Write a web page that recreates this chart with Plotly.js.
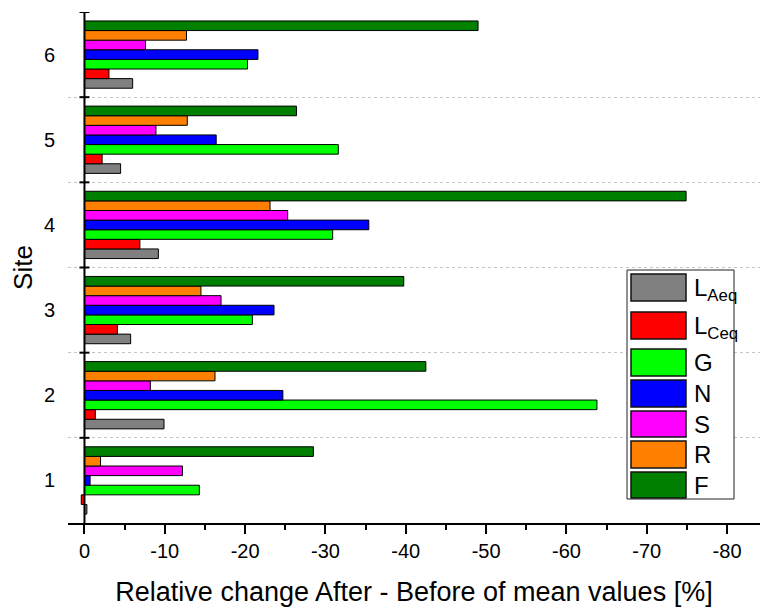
<!DOCTYPE html>
<html>
<head>
<meta charset="utf-8">
<script src="https://cdn.plot.ly/plotly-3.0.1.min.js"></script>
<style>
  html, body { margin: 0; padding: 0; background: #fff; }
  #chart { width: 760px; height: 607px; }
</style>
</head>
<body>
<div id="chart"></div>
<script>
// Sites on the vertical axis
const sites = [1, 2, 3, 4, 5, 6];
const siteLabels = ['1', '2', '3', '4', '5', '6'];

// Relative change After - Before of mean values [%], per site
const LAeq = [-0.3, -9.9, -5.75, -9.2, -4.5, -6.0];
const LCeq = [0.4, -1.35, -4.1, -6.9, -2.2, -3.05];
const G = [-14.3, -63.8, -20.9, -30.9, -31.6, -20.3];
const N = [-0.7, -24.7, -23.6, -35.4, -16.4, -21.6];
const S = [-12.2, -8.2, -17.0, -25.3, -8.9, -7.6];
const R = [-2.0, -16.25, -14.5, -23.1, -12.8, -12.7];
const F = [-28.5, -42.5, -39.75, -74.9, -26.4, -49.0];

const seriesNames = ['L<sub>Aeq</sub>', 'L<sub>Ceq</sub>', 'G', 'N', 'S', 'R', 'F'];
const seriesValues = [LAeq, LCeq, G, N, S, R, F];
const seriesColors = ['#808080', '#ff0000', '#00ff00', '#0000ff', '#ff00ff', '#ff8000', '#008000'];

// x-axis ticks
const xTickVals = [0, -10, -20, -30, -40, -50, -60, -70, -80];
const xTickText = ['0', '-10', '-20', '-30', '-40', '-50', '-60', '-70', '-80'];
const xMinorVals = [-5, -15, -25, -35, -45, -55, -65, -75];

const FONT = 'Liberation Sans, Arial, sans-serif';

const traces = seriesValues.map((vals, i) => ({
  type: 'bar',
  orientation: 'h',
  name: seriesNames[i],
  y: sites,
  x: vals,
  marker: { color: seriesColors[i], line: { color: '#000', width: 1 } },
  showlegend: false,
  hoverinfo: 'x+name'
}));

// plot area in pixels
const PL = 68, PR = 760, PT = 12, PB = 523;
const px2x = p => (p - PL) / (PR - PL);
const py2y = p => (PB - p) / (PB - PT);

const shapes = [];
const annotations = [];

// vertical axis line at zero, drawn over the bars
shapes.push({
  type: 'line', xref: 'x', yref: 'paper', x0: 0, x1: 0, y0: 0, y1: 1,
  line: { color: '#000', width: 2 }, layer: 'above'
});

// crossing tick marks on the y axis at category boundaries
[1.5, 2.5, 3.5, 4.5, 5.5, 6.5].forEach(b => {
  shapes.push({
    type: 'line', xref: 'x', yref: 'y', xsizemode: 'pixel', xanchor: 0,
    x0: -5, x1: 5, y0: b, y1: b,
    line: { color: '#000', width: 2 }, layer: 'above'
  });
});

// legend box
shapes.push({
  type: 'rect', xref: 'paper', yref: 'paper',
  x0: px2x(627), x1: px2x(734), y0: py2y(499), y1: py2y(270),
  fillcolor: '#fff', line: { color: '#222', width: 1 }, layer: 'above'
});
const rows = [[274, 301], [312, 339], [349, 376], [380, 407], [411, 437], [441, 468], [472, 498]];
rows.forEach((r, i) => {
  shapes.push({
    type: 'rect', xref: 'paper', yref: 'paper',
    x0: px2x(631), x1: px2x(686), y0: py2y(r[1]), y1: py2y(r[0]),
    fillcolor: seriesColors[i], line: { color: '#111', width: 1.5 }, layer: 'above'
  });
  const sub = i < 2;
  annotations.push({
    xref: 'paper', yref: 'paper',
    x: px2x(692), y: py2y((r[0] + r[1]) / 2 + (sub ? 2 : 0)),
    xanchor: 'left', yanchor: 'middle', showarrow: false,
    text: seriesNames[i],
    font: { family: FONT, size: 24, color: '#000' }
  });
});

const layout = {
  width: 760, height: 607,
  margin: { l: PL, r: 760 - PR, t: PT, b: 607 - PB, pad: 0 },
  paper_bgcolor: '#fff', plot_bgcolor: '#fff',
  barmode: 'group', bargap: 0.21, bargroupgap: 0,
  font: { family: FONT, color: '#000' },
  xaxis: {
    range: [2.05, -84.1],
    tickmode: 'array', tickvals: xTickVals, ticktext: xTickText,
    ticks: 'outside', ticklen: 9, tickwidth: 2, tickcolor: '#000',
    minor: { tickmode: 'array', tickvals: xMinorVals, ticks: 'outside', ticklen: 5, tickwidth: 2, tickcolor: '#000', showgrid: false },
    showline: true, linecolor: '#000', linewidth: 2,
    showgrid: false,
    zeroline: false,
    tickfont: { family: FONT, size: 20, color: '#000' },
    title: { text: 'Relative change After - Before of mean values [%]', font: { family: FONT, size: 27, color: '#000' }, standoff: 21 },
    automargin: false, fixedrange: true
  },
  yaxis: {
    range: [0.5, 6.5],
    tickmode: 'array', tickvals: sites, ticktext: siteLabels,
    ticks: '', ticklabelstandoff: 12,
    showline: false, showgrid: false, zeroline: false,
    minor: { tickmode: 'array', tickvals: [1.5, 2.5, 3.5, 4.5, 5.5], ticks: '', showgrid: true, gridcolor: '#c4c4c4', griddash: 'dot', gridwidth: 1 },
    tickfont: { family: FONT, size: 20, color: '#000' },
    title: { text: 'Site', font: { family: FONT, size: 26, color: '#000' }, standoff: 3 },
    automargin: false, fixedrange: true
  },
  shapes: shapes,
  annotations: annotations,
  showlegend: false
};

Plotly.newPlot('chart', traces, layout, { displayModeBar: false, staticPlot: true });
</script>
</body>
</html>
